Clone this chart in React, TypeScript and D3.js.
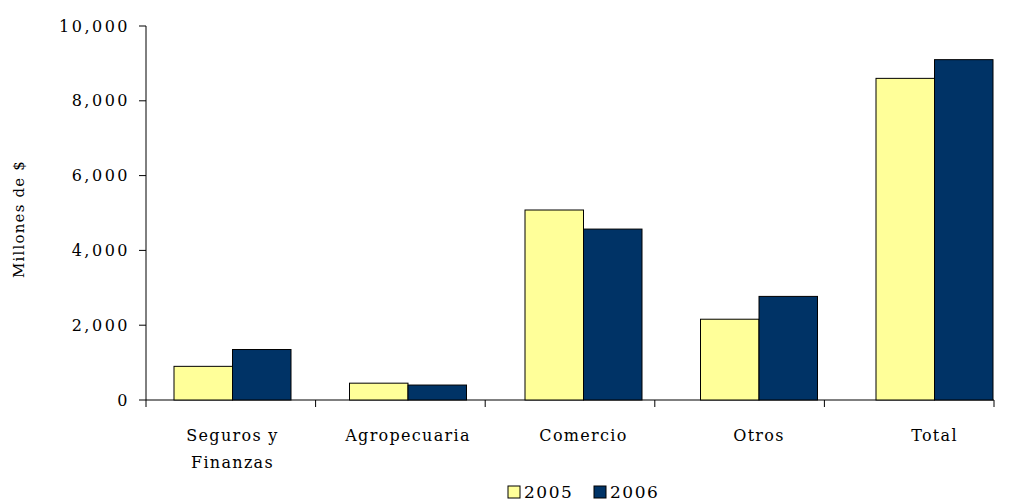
import React from 'react';
import * as d3 from 'd3';

const categories = [['Seguros y', 'Finanzas'], ['Agropecuaria'], ['Comercio'], ['Otros'], ['Total']];
const series = ['2005', '2006'];
const values2005 = [900, 450, 5080, 2160, 8600];
const values2006 = [1350, 400, 4570, 2770, 9100];
const yTicks = [0, 2000, 4000, 6000, 8000, 10000];
const colors = ['#FFFF99', '#003366'];

export default function App() {
  const left = 146, right = 994, top = 26, bottom = 400;
  const x = d3.scaleBand<number>().domain(d3.range(categories.length)).range([174, 993]).paddingInner(1 / 3).paddingOuter(0);
  const y = d3.scaleLinear().domain([0, 10000]).range([bottom, top]);
  const step = (right - left) / categories.length;
  const bw = x.bandwidth() / 2;
  const fmt = d3.format(',');
  const font = "'DejaVu Serif', serif";
  return (
    <svg width={1010} height={504} style={{ position: 'absolute', left: 0, top: 0, background: '#fff' }}>
      <line x1={left} x2={left} y1={top} y2={bottom} stroke="#000" />
      <line x1={left} x2={right} y1={bottom} y2={bottom} stroke="#000" />
      {yTicks.map(t => (
        <g key={t}>
          <line x1={left - 7} x2={left} y1={y(t)} y2={y(t)} stroke="#000" />
          <text x={left - 16} y={y(t)} dy="0.35em" textAnchor="end" fontFamily={font} fontSize={16} letterSpacing={2.5}>{fmt(t)}</text>
        </g>
      ))}
      {d3.range(categories.length + 1).map(i => (
        <line key={i} x1={left + i * step} x2={left + i * step} y1={bottom} y2={bottom + 7} stroke="#000" />
      ))}
      {categories.map((c, i) => (
        <g key={i}>
          {[values2005[i], values2006[i]].map((v, s) => (
            <rect key={s} x={x(i)! + s * bw} y={y(v)} width={bw} height={bottom - y(v)} fill={colors[s]} stroke="#000" strokeWidth={1} />
          ))}
          {c.map((line, k) => (
            <text key={k} x={x(i)! + x.bandwidth() / 2} y={441 + k * 27} textAnchor="middle" fontFamily={font} fontSize={16} letterSpacing={1.3}>{line}</text>
          ))}
        </g>
      ))}
      <text transform="translate(24,219) rotate(-90)" textAnchor="middle" fontFamily={font} fontSize={15} letterSpacing={1.2}>Millones de $</text>
      {series.map((s, i) => (
        <g key={s} transform={`translate(${508 + i * 86},486)`}>
          <rect width={12} height={12} fill={colors[i]} stroke="#000" />
          <text x={16} y={12} fontFamily={font} fontSize={17} letterSpacing={1.5}>{s}</text>
        </g>
      ))}
    </svg>
  );
}
